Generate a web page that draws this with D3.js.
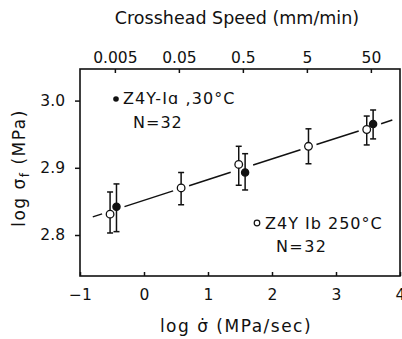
<!DOCTYPE html>
<html lang="en">
<head>
    <meta charset="UTF-8">
    <script src="https://cdn.jsdelivr.net/npm/d3@7/dist/d3.min.js"></script>
    <title>log sigma f vs log stress rate</title>
    <style>
        body { margin: 0; background: #fff; }
        text { font-family: "DejaVu Sans", sans-serif; fill: #111; }
    </style>
</head>
<body>
<script>
    // Z4Y Ib, 250 C (open circles)
    var rateOpen = [-0.53, 0.58, 1.48, 2.57, 3.48];
    var sigmaOpen = [2.831, 2.870, 2.905, 2.932, 2.957];
    var hiOpen = [2.864, 2.893, 2.932, 2.958, 2.977];
    var loOpen = [2.803, 2.845, 2.874, 2.906, 2.934];
    // Z4Y-Ia, 30 C (filled circles)
    var rateFilled = [-0.43, 1.58, 3.58];
    var sigmaFilled = [2.842, 2.893, 2.965];
    var hiFilled = [2.876, 2.921, 2.986];
    var loFilled = [2.805, 2.867, 2.943];
    // fitted line end points
    var fitX = [-0.8, 3.88];
    var fitY = [2.827, 2.971];
    var xTicks = [-1, 0, 1, 2, 3, 4];
    var yTicks = [2.8, 2.9, 3.0];
    var speedTicks = [0.005, 0.05, 0.5, 5, 50];
    var speedOffset = 1.846; // log rate = log10(speed) + offset

    var width = 402, height = 339;
    var mLeft = 80, mRight = 400, mTop = 69, mBottom = 276;

    var x = d3.scaleLinear().domain([-1, 4]).range([mLeft, mRight]);
    var y = d3.scaleLinear().domain([2.739, 3.047]).range([mBottom, mTop]);
    var xSpeed = d3.scaleLog()
        .domain([Math.pow(10, -1 - speedOffset), Math.pow(10, 4 - speedOffset)])
        .range([mLeft, mRight]);

    var svg = d3.select("body").append("svg").attr("width", width).attr("height", height);

    // frame
    svg.append("rect").attr("x", mLeft).attr("y", mTop).attr("width", mRight - mLeft).attr("height", mBottom - mTop)
        .attr("fill", "none").attr("stroke", "#111").attr("stroke-width", 1.6);

    var bottomAxis = svg.append("g").attr("transform", "translate(0," + mBottom + ")")
        .call(d3.axisBottom(x).tickValues(xTicks).tickSizeInner(-4).tickSizeOuter(0).tickPadding(13)
            .tickFormat(function (d) { return d < 0 ? "\u2212" + Math.abs(d) : d; }));
    var leftAxis = svg.append("g").attr("transform", "translate(" + mLeft + ",0)")
        .call(d3.axisLeft(y).tickValues(yTicks).tickSizeInner(5).tickSizeOuter(0).tickPadding(10)
            .tickFormat(d3.format(".1f")));
    var topAxis = svg.append("g").attr("transform", "translate(0," + mTop + ")")
        .call(d3.axisTop(xSpeed).tickValues(speedTicks)
            .tickSizeInner(-4).tickSizeOuter(0).tickPadding(6).tickFormat(function (d) { return d; }));

    [bottomAxis, leftAxis, topAxis].forEach(function (g) {
        g.select(".domain").remove();
        g.selectAll("line").attr("stroke", "#111").attr("stroke-width", 1.5);
        g.selectAll("text").style("font-size", "15.5px").attr("fill", "#111");
    });

    // fitted line broken around the marker clusters
    var allX = rateOpen.concat(rateFilled).sort(d3.ascending);
    var clusters = [];
    allX.forEach(function (v) {
        var c = clusters[clusters.length - 1];
        if (c && v - c[1] < 0.3) c[1] = v; else clusters.push([v, v]);
    });
    var gap = 8;
    var slope = (fitY[1] - fitY[0]) / (fitX[1] - fitX[0]);
    function fitAt(v) { return fitY[0] + slope * (v - fitX[0]); }
    var segs = [], start = fitX[0];
    clusters.forEach(function (c) {
        var a = x.invert(x(c[0]) - gap), b = x.invert(x(c[1]) + gap);
        if (a > start) segs.push([start, a]);
        start = b;
    });
    if (fitX[1] > start) segs.push([start, fitX[1]]);
    svg.selectAll(".fit").data(segs).enter().append("line").attr("class", "fit")
        .attr("x1", function (d) { return x(d[0]); }).attr("y1", function (d) { return y(fitAt(d[0])); })
        .attr("x2", function (d) { return x(d[1]); }).attr("y2", function (d) { return y(fitAt(d[1])); })
        .attr("stroke", "#111").attr("stroke-width", 1.5);

    function drawSeries(rates, vals, hi, lo, filled) {
        var data = rates.map(function (r, i) { return { r: r, v: vals[i], hi: hi[i], lo: lo[i] }; });
        var g = svg.append("g");
        var eb = g.selectAll("g").data(data).enter().append("g").attr("stroke", "#111").attr("stroke-width", 1.5);
        eb.append("line").attr("x1", function (d) { return x(d.r); }).attr("x2", function (d) { return x(d.r); })
            .attr("y1", function (d) { return y(d.hi); }).attr("y2", function (d) { return y(d.lo); });
        eb.append("line").attr("x1", function (d) { return x(d.r) - 3; }).attr("x2", function (d) { return x(d.r) + 3; })
            .attr("y1", function (d) { return y(d.hi); }).attr("y2", function (d) { return y(d.hi); });
        eb.append("line").attr("x1", function (d) { return x(d.r) - 3; }).attr("x2", function (d) { return x(d.r) + 3; })
            .attr("y1", function (d) { return y(d.lo); }).attr("y2", function (d) { return y(d.lo); });
        g.selectAll("circle").data(data).enter().append("circle")
            .attr("cx", function (d) { return x(d.r); }).attr("cy", function (d) { return y(d.v); })
            .attr("r", filled ? 3.6 : 3.8)
            .attr("fill", filled ? "#111" : "#fff").attr("stroke", "#111").attr("stroke-width", 1.3);
    }
    drawSeries(rateOpen, sigmaOpen, hiOpen, loOpen, false);
    drawSeries(rateFilled, sigmaFilled, hiFilled, loFilled, true);

    // legends
    svg.append("circle").attr("cx", 116).attr("cy", 99).attr("r", 2.8).attr("fill", "#111");
    svg.append("text").attr("x", 123).attr("y", 104).style("font-size", "16px").style("letter-spacing", "1.1px")
        .text("Z4Y-I\u0251 ,30\u00b0C");
    svg.append("text").attr("x", 133).attr("y", 128).style("font-size", "16px").style("letter-spacing", "1px")
        .text("N=32");
    svg.append("circle").attr("cx", 257).attr("cy", 223).attr("r", 2.8).attr("fill", "#fff").attr("stroke", "#111").attr("stroke-width", 1.2);
    svg.append("text").attr("x", 265).attr("y", 229).style("font-size", "16px").style("letter-spacing", "1px")
        .text("Z4Y Ib 250\u00b0C");
    svg.append("text").attr("x", 276).attr("y", 252).style("font-size", "16px").style("letter-spacing", "1.4px")
        .text("N=32");

    // titles
    svg.append("text").attr("x", 237).attr("y", 24).attr("text-anchor", "middle").style("font-size", "17.5px")
        .text("Crosshead Speed (mm/min)");
    svg.append("text").attr("x", 236).attr("y", 332).attr("text-anchor", "middle").style("font-size", "17px")
        .style("letter-spacing", "1.5px").text("log \u03c3\u0307 (MPa/sec)");
    var yt = svg.append("text").attr("transform", "translate(25,168) rotate(-90)").attr("text-anchor", "middle")
        .style("font-size", "17px").style("letter-spacing", "1.5px");
    yt.append("tspan").text("log \u03c3");
    yt.append("tspan").attr("dy", 4).style("font-size", "12px").text("f");
    yt.append("tspan").attr("dy", -4).text(" (MPa)");
</script>
</body>
</html>
